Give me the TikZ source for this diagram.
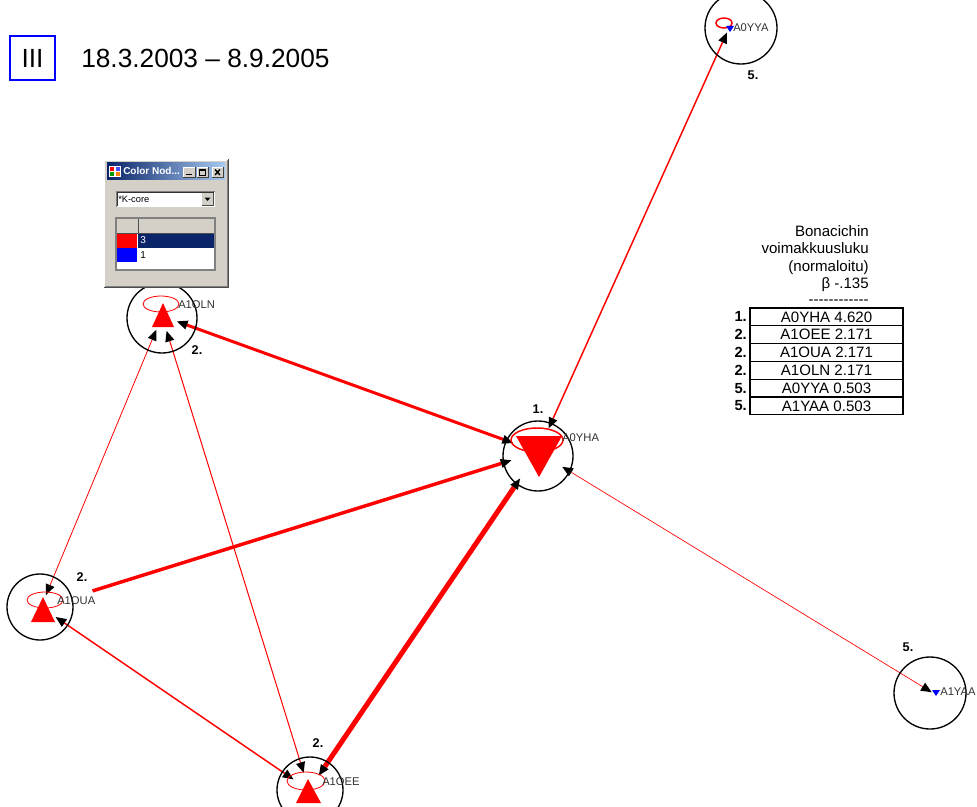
\documentclass[tikz,border=0pt]{standalone}
\usepackage{fontspec}
\setmainfont{Liberation Sans}
\usetikzlibrary{arrows.meta}
\definecolor{winbg}{HTML}{D4D0C8}
\definecolor{navy}{HTML}{0A246A}
\definecolor{titlelight}{HTML}{A6CAF0}
\definecolor{lblgray}{HTML}{303030}
\definecolor{framegray}{HTML}{808080}

\begin{document}
\begin{tikzpicture}[x=0.75pt,y=-0.75pt,
  >={Triangle[color=black,fill=black,length=8pt,width=7pt,line width=0pt]},
  ring/.style={circle,draw=black,line width=1pt,inner sep=0pt,outer sep=0pt},
  link/.style={draw=red,line cap=butt},
  selfloop/.style={draw=red,line width=0.6pt},
  glyph/.style={fill=red},
  tag/.style={font=\fontsize{8.4}{9}\selectfont,text=lblgray,inner sep=0pt,anchor=west},
  rank/.style={font=\bfseries\fontsize{9.5}{10}\selectfont,inner sep=0pt},
  legend/.style={font=\fontsize{11.3}{12}\selectfont,inner sep=0pt,anchor=base east},
  row/.style={draw=black,line width=0.8pt},
  rowtext/.style={font=\fontsize{11.3}{12}\selectfont,inner sep=0pt},
  rownum/.style={font=\bfseries\fontsize{11}{12}\selectfont,inner sep=0pt,anchor=east},
  ]
\useasboundingbox (0,0) rectangle (977,806);

% ---- title ----
\draw[blue,line width=0.8pt] (10,36) rectangle (55,80);
\node[font=\fontsize{19.7}{22}\selectfont,inner sep=0pt] (period) at (32.5,58) {III};
\node[font=\fontsize{19.7}{22}\selectfont,inner sep=0pt,anchor=west] (dates) at (81,58) {18.3.2003 -- 8.9.2005};

% ---- node anchor points (centres of the glyphs) ----
\coordinate (oln) at (162,316);
\coordinate (yha) at (538,452);
\coordinate (oua) at (41,607);
\coordinate (oee) at (309,790);
\coordinate (yya) at (729,28);
\coordinate (yaa) at (933,693);

% ---- ties ----
\draw[link,<->,line width=3.75pt,shorten <=24pt,shorten >=13.1pt] (yha) -- (oee);
\draw[link,<->,line width=2.25pt,shorten <=19.9pt,shorten >=11.9pt] (yha) -- (oln);
\draw[link,<-,line width=2.6pt,shorten <=20.9pt,shorten >=40.5pt] (yha) -- (oua);
\draw[link,<->,line width=0.6pt,shorten <=11.2pt,shorten >=9.75pt] (oln) -- (oua);
\draw[link,<->,line width=0.75pt,shorten <=11.7pt,shorten >=13.5pt] (oln) -- (oee);
\draw[link,<->,line width=1.1pt,shorten <=13.3pt,shorten >=14.1pt] (oua) -- (oee);
\draw[link,<->,line width=1.1pt,shorten <=19.5pt,shorten >=3.75pt] (yha) -- (yya);
\draw[link,<->,line width=0.5pt,shorten <=21.3pt,shorten >=1.1pt] (yha) -- (yaa);

% ---- reflexive loops ----
\draw[selfloop] (161,304) ellipse [x radius=18,y radius=8];
\draw[selfloop,line width=1.1pt] (537,440) ellipse [x radius=26,y radius=12];
\draw[selfloop] (45,600) ellipse [x radius=18,y radius=8];
\draw[selfloop] (306,781) ellipse [x radius=19,y radius=9];
\draw[selfloop,line width=1.1pt] (724,23) ellipse [x radius=8,y radius=5];

% ---- glyphs ----
\fill[glyph] (163,303) -- (152,327) -- (174,327) -- cycle;
\fill[glyph] (43,597) -- (31,622) -- (55,622) -- cycle;
\fill[glyph] (308,779) -- (296,803) -- (321,803) -- cycle;
\fill[glyph] (516,436) -- (562,436) -- (539,477) -- cycle;
\fill[blue] (726,26) -- (734,26) -- (730,32) -- cycle;
\fill[blue] (932,690) -- (940,690) -- (936,696) -- cycle;

% ---- actor rings ----
\node[ring,minimum size=52.5pt] (A1OLN) at (162,318) {};
\node[ring,minimum size=52.5pt] (A0YHA) at (538,456) {};
\node[ring,minimum size=49.5pt] (A1OUA) at (40,607) {};
\node[ring,minimum size=49.5pt] (A1OEE) at (310,790) {};
\node[ring,minimum size=54pt] (A0YYA) at (741,28) {};
\node[ring,minimum size=54pt] (A1YAA) at (930,693) {};

% ---- actor labels ----
\node[tag] (tOLN) at (178,305) {A1OLN};
\node[tag] (tYHA) at (562,438) {A0YHA};
\node[tag] (tOUA) at (57,601) {A1OUA};
\node[tag] (tOEE) at (322,782) {A1OEE};
\node[tag] (tYYA) at (733,28) {A0YYA};
\node[tag] (tYAA) at (940,692) {A1YAA};

% ---- ranks ----
\node[rank] (rOLN) at (197,350) {2.};
\node[rank] (rYHA) at (538,409) {1.};
\node[rank] (rOUA) at (82,577) {2.};
\node[rank] (rOEE) at (318,743) {2.};
\node[rank] (rYYA) at (753,75) {5.};
\node[rank] (rYAA) at (908,647) {5.};

% ---- legend ----
\node[legend] (h1) at (869,236) {Bonacichin};
\node[legend] (h2) at (869,253.5) {voimakkuusluku};
\node[legend] (h3) at (869,271) {(normaloitu)};
\node[legend] (h4) at (869,288.5) {β -.135};
\node[legend] (h5) at (869,304) {-{}-{}-{}-{}-{}-{}-{}-{}-{}-{}-{}-};
\foreach \i/\num/\txt in {0/1./A0YHA 4.620,1/2./A1OEE 2.171,2/2./A1OUA 2.171,3/2./A1OLN 2.171,4/5./A0YYA 0.503,5/5./A1YAA 0.503}{
  \draw[row] (750,308+17.8*\i) rectangle (903,308+17.8*\i+17.8);
  \node[rowtext] (v\i) at (826.5,308+17.8*\i+8.9) {\txt};
  \node[rownum] (n\i) at (747,308+17.8*\i+8.9) {\num};
}

% ---- colour dialog ----
\fill[winbg] (104,160) rectangle (228,287);
\draw[white,line width=0.75pt] (104.5,286.5) -- (104.5,160.5) -- (227.5,160.5);
\draw[framegray,line width=0.75pt] (104.5,286.5) -- (227.5,286.5) -- (227.5,160.5);
\draw[black!70,line width=0.75pt] (103.5,287.5) -- (228.5,287.5) -- (228.5,159.5);
\shade[left color=navy,right color=titlelight] (107,163) rectangle (225,179);
% window icon
\fill[white] (109,166) rectangle (121,177);
\fill[red] (110,167) rectangle (114,171);
\fill[blue!70] (116,167) rectangle (120,171);
\fill[green!60!black] (110,172) rectangle (114,176);
\fill[orange] (116,172) rectangle (120,176);
\node[font=\bfseries\fontsize{7.5}{8}\selectfont,text=white,inner sep=0pt,anchor=west] (wtitle) at (123,171) {Color Nod...};
% caption buttons
\foreach \a/\b in {183/195,197/208,212/223}{
  \fill[winbg] (\a,167) rectangle (\b,177);
  \draw[white,line width=0.5pt] (\a,177) -- (\a,167) -- (\b,167);
  \draw[black!75,line width=0.5pt] (\a,177) -- (\b,177) -- (\b,167);
}
\draw[black,line width=1.2pt] (186,174.5) -- (192,174.5);
\draw[black,line width=0.5pt] (199.5,169.5) rectangle (205.5,175.5);
\draw[black,line width=1.2pt] (199.5,170) -- (205.5,170);
\draw[black,line width=1pt] (215,169.5) -- (220,175) (215,175) -- (220,169.5);
% drop-down box
\fill[white] (116,191) rectangle (215,207);
\draw[framegray,line width=0.75pt] (116,207) -- (116,191) -- (215,191);
\draw[black!80,line width=0.5pt] (117,206) -- (117,192) -- (214,192);
\node[font=\fontsize{7}{8}\selectfont,inner sep=0pt,anchor=west] (kcore) at (118,199) {*K-core};
\fill[winbg] (202,193) rectangle (213,205);
\draw[black!70,line width=0.5pt] (202,205) -- (213,205) -- (213,193);
\fill[black] (204.5,197.5) -- (210.5,197.5) -- (207.5,201) -- cycle;
% class table
\fill[white] (116,218) rectangle (215,270);
\fill[winbg] (116,218) rectangle (215,233);
\draw[black!70,line width=0.5pt] (116,233) -- (215,233) (138,218) -- (138,233);
\fill[red] (117,233.5) rectangle (137,248);
\fill[navy] (138,233.5) rectangle (215,248);
\fill[blue] (117,248) rectangle (137,262);
\node[font=\fontsize{7.5}{8}\selectfont,text=white,inner sep=0pt,anchor=west] (k3) at (140,240.5) {3};
\node[font=\fontsize{7.5}{8}\selectfont,text=black,inner sep=0pt,anchor=west] (k1) at (140,255) {1};
\draw[framegray,line width=0.9pt] (116,218) rectangle (215,270);
\end{tikzpicture}
\end{document}
